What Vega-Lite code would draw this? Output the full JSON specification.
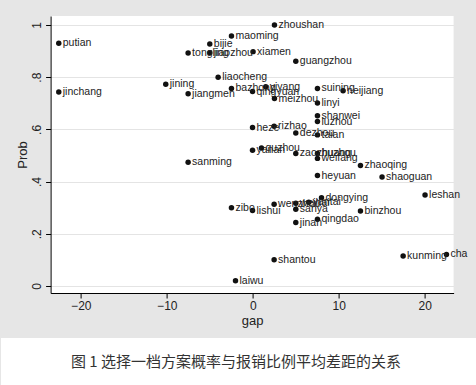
{
  "$schema": "https://vega.github.io/schema/vega-lite/v6.json",
  "background": "#e6e6e6",
  "padding": {"left": 0, "top": 16, "right": 0, "bottom": 0},
  "spacing": 11,
  "columns": 1,
  "center": true,
  "config": {"view": {"stroke": null}, "font": "Liberation Sans"},
  "datasets": {
    "cities": [
      {"name": "putian", "gap": -22.56, "prob": 0.930},
      {"name": "jinchang", "gap": -22.56, "prob": 0.743},
      {"name": "jining", "gap": -10.12, "prob": 0.773},
      {"name": "jiangmen", "gap": -7.52, "prob": 0.737},
      {"name": "tongling", "gap": -7.52, "prob": 0.893},
      {"name": "sanming", "gap": -7.52, "prob": 0.474},
      {"name": "bijie", "gap": -5.0, "prob": 0.927},
      {"name": "jiaozhou", "gap": -5.0, "prob": 0.894},
      {"name": "liaocheng", "gap": -4.03, "prob": 0.800},
      {"name": "maoming", "gap": -2.48, "prob": 0.958},
      {"name": "bazhong", "gap": -2.48, "prob": 0.757},
      {"name": "zibo", "gap": -2.48, "prob": 0.300},
      {"name": "laiwu", "gap": -2.01, "prob": 0.020},
      {"name": "xiamen", "gap": 0.03, "prob": 0.898},
      {"name": "qingyuan", "gap": -0.03, "prob": 0.745},
      {"name": "heze", "gap": -0.03, "prob": 0.607},
      {"name": "yanan", "gap": -0.03, "prob": 0.520},
      {"name": "lishui", "gap": -0.03, "prob": 0.289},
      {"name": "quzhou", "gap": 1.01, "prob": 0.529},
      {"name": "yiyang", "gap": 1.51, "prob": 0.763},
      {"name": "zhoushan", "gap": 2.52, "prob": 1.0},
      {"name": "meizhou", "gap": 2.52, "prob": 0.718},
      {"name": "rizhao", "gap": 2.48, "prob": 0.612},
      {"name": "wenzhou", "gap": 2.48, "prob": 0.313},
      {"name": "shantou", "gap": 2.48, "prob": 0.101},
      {"name": "guangzhou", "gap": 5.0, "prob": 0.861},
      {"name": "dezhou", "gap": 5.0, "prob": 0.586},
      {"name": "zaozhuang", "gap": 5.0, "prob": 0.508},
      {"name": "weihai", "gap": 5.0, "prob": 0.317},
      {"name": "sanya", "gap": 5.0, "prob": 0.294},
      {"name": "jinan", "gap": 5.0, "prob": 0.243},
      {"name": "yantai", "gap": 6.51, "prob": 0.321},
      {"name": "suining", "gap": 7.52, "prob": 0.757},
      {"name": "linyi", "gap": 7.52, "prob": 0.701},
      {"name": "shanwei", "gap": 7.52, "prob": 0.652},
      {"name": "luzhou", "gap": 7.52, "prob": 0.630},
      {"name": "taian", "gap": 7.52, "prob": 0.579},
      {"name": "huzhou", "gap": 7.52, "prob": 0.508},
      {"name": "weifang", "gap": 7.52, "prob": 0.489},
      {"name": "heyuan", "gap": 7.52, "prob": 0.423},
      {"name": "qingdao", "gap": 7.52, "prob": 0.256},
      {"name": "dongying", "gap": 7.99, "prob": 0.338},
      {"name": "neijiang", "gap": 10.5, "prob": 0.748},
      {"name": "zhaoqing", "gap": 12.52, "prob": 0.462},
      {"name": "binzhou", "gap": 12.52, "prob": 0.287},
      {"name": "shaoguan", "gap": 15.03, "prob": 0.418},
      {"name": "kunming", "gap": 17.48, "prob": 0.115},
      {"name": "leshan", "gap": 20.03, "prob": 0.349},
      {"name": "cha", "gap": 22.52, "prob": 0.121}
    ],
    "caption": [{"text": "图 1 选择一档方案概率与报销比例平均差距的关系"}]
  },
  "concat": [
    {
      "width": 403,
      "height": 277,
      "data": {"name": "cities"},
      "view": {"fill": "white", "stroke": null},
      "encoding": {
        "x": {
          "field": "gap",
          "type": "quantitative",
          "scale": {"domain": [-23.51, 23.35], "nice": false, "zero": false},
          "axis": {
            "values": [-20, -10, 0, 10, 20],
            "format": "d",
            "grid": false,
            "tickSize": 5,
            "tickColor": "#000",
            "domainColor": "#000",
            "labelPadding": 2,
            "labelFontSize": 12,
            "labelColor": "#222",
            "title": "gap",
            "titleFontSize": 13,
            "titleFontWeight": "normal",
            "titleColor": "#222",
            "titlePadding": 3
          }
        },
        "y": {
          "field": "prob",
          "type": "quantitative",
          "scale": {"domain": [-0.0268, 1.0345], "nice": false, "zero": false},
          "axis": {
            "values": [0, 0.2, 0.4, 0.6, 0.8, 1],
            "labelExpr": "datum.value == 0 ? '0' : datum.value == 1 ? '1' : replace(format(datum.value, '.1f'), '0.', '.')",
            "labelAngle": -90,
            "labelAlign": "center",
            "labelBaseline": "bottom",
            "labelPadding": 2,
            "labelFontSize": 12,
            "labelColor": "#222",
            "tickSize": 5,
            "tickColor": "#000",
            "domainColor": "#000",
            "grid": true,
            "gridColor": "#e4e4e4",
            "title": ["", "Prob"],
            "titleFontSize": 13,
            "titleLineHeight": 16,
            "titleFontWeight": "normal",
            "titleColor": "#222",
            "titlePadding": 1
          }
        }
      },
      "layer": [
        {"mark": {"type": "point", "filled": true, "size": 30, "color": "#111", "opacity": 1}},
        {
          "mark": {"type": "text", "align": "left", "baseline": "middle", "dx": 4, "fontSize": 10.5, "color": "#222"},
          "encoding": {"text": {"field": "name"}}
        }
      ]
    },
    {
      "width": 516,
      "height": 47,
      "data": {"name": "caption"},
      "view": {"fill": "white", "stroke": null},
      "mark": {"type": "text", "font": "Noto Sans CJK SC", "fontSize": 15, "color": "#333", "dx": -23},
      "encoding": {"text": {"field": "text"}}
    }
  ]
}
